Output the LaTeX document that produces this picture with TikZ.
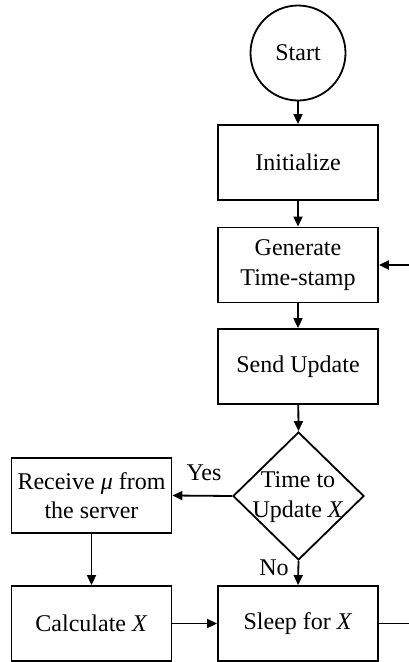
\documentclass[tikz,border=0pt]{standalone}
\usepackage{fontspec}
\setmainfont{Liberation Serif}
\usetikzlibrary{shapes.geometric,arrows.meta}
\begin{document}
\begin{tikzpicture}[x=1pt,y=-1pt,
  every node/.style={font=\fontsize{24}{29.5}\selectfont},
  box/.style={draw, line width=1.8pt, minimum width=160pt, minimum height=75pt, inner sep=0pt, align=center},
  flow/.style={line width=1.8pt, -{Triangle[length=10pt,width=9pt]}},
  plain/.style={line width=1.8pt}]
\useasboundingbox (0,0) rectangle (409,662);
\node[circle, draw, line width=1.8pt, minimum size=95pt, inner sep=0pt] (start) at (298,53) {Start};
\node[box] (init) at (298,162.5) {Initialize};
\node[box] (gen) at (298,265) {Generate\\Time-stamp};
\node[box] (send) at (298,366.5) {Send Update};
\node[diamond, draw, line width=1.8pt, minimum width=131pt, minimum height=128pt, inner sep=0pt] (dec) at (298.5,496) {};
\node[align=center, inner sep=0pt] (dectext) at (298,497) {Time to\\Update \textit{X}};
\node[box] (recv) at (91.5,495.5) {Receive \textit{μ} from\\the server};
\node[box] (calc) at (91.5,623.5) {Calculate \textit{X}};
\node[box] (sleep) at (298,623.5) {Sleep for \textit{X}};
\node (yes) at (204,473) {Yes};
\node (no) at (274,568) {No};
\coordinate (rightout) at (410,623.5);
\coordinate (rightin) at (410,265);
\draw[flow] (start) -- (init);
\draw[flow] (init) -- (gen);
\draw[flow] (gen) -- (send);
\draw[flow] (send) -- (dec.north);
\draw[flow] (dec.west) -- (recv.east);
\draw[flow] (recv) -- (calc);
\draw[flow] (dec.south) -- (sleep.north);
\draw[flow] (calc) -- (sleep);
\draw[plain] (sleep.east) -- (rightout);
\draw[flow] (rightin) -- (gen.east);
\end{tikzpicture}
\end{document}
